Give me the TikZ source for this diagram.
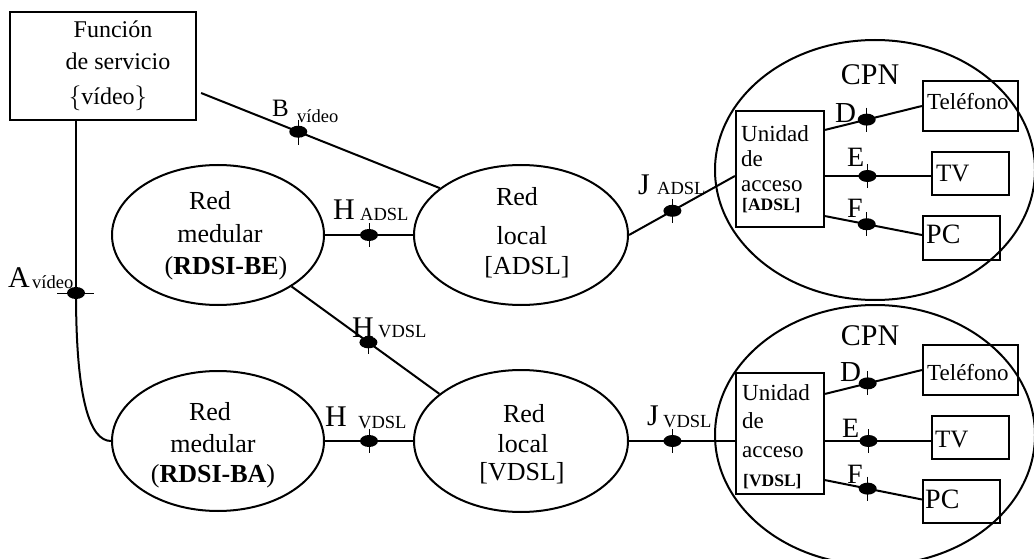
\documentclass[tikz,border=0pt]{standalone}
\usepackage{fontspec}
\setmainfont{Liberation Serif}
\usetikzlibrary{shapes.geometric}
\tikzset{
  ln/.style={line width=2pt},
  lnthick/.style={line width=2.6pt},
  tickln/.style={line width=0.8pt},
  net/.style={draw, ellipse, line width=2pt, minimum width=212pt, minimum height=140pt, inner sep=0pt},
  cpn/.style={draw, ellipse, line width=2pt, minimum width=320pt, minimum height=260pt, inner sep=0pt},
  box/.style={draw, rectangle, line width=2.2pt, inner sep=0pt},
  pt/.style={fill=black, ellipse, minimum width=18pt, minimum height=12pt, inner sep=0pt},
  txt/.style={inner sep=0pt, anchor=base, font=\fontsize{26}{30}\selectfont},
  svctxt/.style={inner sep=0pt, anchor=base, font=\fontsize{24}{28}\selectfont},
  lab/.style={inner sep=0pt, anchor=base west, font=\fontsize{30}{32}\selectfont},
  lbl/.style={inner sep=0pt, anchor=base west, font=\fontsize{25}{28}\selectfont},
  sub/.style={inner sep=0pt, anchor=base west, font=\fontsize{18.5}{20}\selectfont},
  dev/.style={inner sep=0pt, anchor=base west, font=\fontsize{23}{26}\selectfont},
  unit/.style={inner sep=0pt, anchor=base west, font=\fontsize{23}{26}\selectfont},
  unitb/.style={inner sep=0pt, anchor=base west, font=\fontsize{17.5}{20}\selectfont\bfseries},
}
\begin{document}
\begin{tikzpicture}[x=1pt,y=-1pt]
\useasboundingbox (0,0) rectangle (1034,559);
\fill[white] (0,0) rectangle (1034,559);

% service function box
\node[box, minimum width=186pt, minimum height=108pt] (svc) at (103,66) {};
\node[svctxt] (svc1) at (113,38) {Función};
\node[svctxt] (svc2) at (118,70) {de servicio};
\node[svctxt] (svc3) at (108,105) {$\biggl\{$vídeo$\biggr\}$};

% core and access networks
\node[net] (mBE) at (218,235) {};
\node[net] (mBA) at (218,441) {};
\node[net, minimum width=214pt, minimum height=140pt] (lA) at (521,235) {};
\node[net, minimum width=214pt, minimum height=142pt] (lV) at (521,441) {};

\node[txt] (mBE1) at (210,210) {Red};
\node[txt] (mBE2) at (220,242) {medular};
\node[txt] (mBE3) at (226,274) {(\textbf{RDSI-BE})};
\node[txt] (mBA1) at (210,420) {Red};
\node[txt] (mBA2) at (213,452) {medular};
\node[txt] (mBA3) at (213,482) {(\textbf{RDSI-BA})};
\node[txt] (lA1) at (517,205) {Red};
\node[txt] (lA2) at (522,244) {local};
\node[txt] (lA3) at (527,274) {[ADSL]};
\node[txt] (lV1) at (524,422) {Red};
\node[txt] (lV2) at (523,452) {local};
\node[txt] (lV3) at (522,480) {[VDSL]};

% customer premises networks
\node[cpn] (cA) at (875,170) {};
\node[cpn] (cV) at (875,435) {};
\node[inner sep=0pt, anchor=base, font=\fontsize{30}{32}\selectfont] (cAt) at (870,85) {CPN};
\node[inner sep=0pt, anchor=base, font=\fontsize{30}{32}\selectfont] (cVt) at (870,345) {CPN};

% access units
\node[box, minimum width=88pt, minimum height=116pt] (uA) at (780,169) {};
\node[unit] (uA1) at (741,142) {Unidad};
\node[unit] (uA2) at (741,167) {de};
\node[unit] (uA3) at (741,192) {acceso};
\node[unitb] (uA4) at (742,211) {[ADSL]};
\node[box, minimum width=88pt, minimum height=121pt] (uV) at (780,433.5) {};
\node[unit] (uV1) at (742,400) {Unidad};
\node[unit] (uV2) at (742,428) {de};
\node[unit] (uV3) at (742,457) {acceso};
\node[unitb] (uV4) at (743,486) {[VDSL]};

% terminals
\node[box, minimum width=95pt, minimum height=50pt] (telA) at (970.5,106) {};
\node[box, minimum width=77pt, minimum height=43pt] (tvA) at (970.5,173.5) {};
\node[box, minimum width=77pt, minimum height=44pt] (pcA) at (961.5,238) {};
\node[box, minimum width=95pt, minimum height=50pt] (telV) at (970.5,370) {};
\node[box, minimum width=77pt, minimum height=43pt] (tvV) at (970.5,437.5) {};
\node[box, minimum width=77pt, minimum height=43pt] (pcV) at (961.5,501.5) {};
\node[dev] (telAt) at (927,110) {Teléfono};
\node[dev, font=\fontsize{25}{28}\selectfont] (tvAt) at (936,182) {TV};
\node[dev, font=\fontsize{28}{30}\selectfont] (pcAt) at (926,243) {PC};
\node[dev] (telVt) at (927,380) {Teléfono};
\node[dev, font=\fontsize{25}{28}\selectfont] (tvVt) at (935,447) {TV};
\node[dev, font=\fontsize{28}{30}\selectfont] (pcVt) at (925,508) {PC};

% reference point B
\draw[ln] ([xshift=4pt,yshift=-27pt]svc.east) -- node[pt, pos=0.407] (dB) {} (lA.150);
\draw[tickln] ([yshift=12pt]dB.center) -- ([yshift=-13pt]dB.center);
\node[lbl] (Bl) at (272,117) {B};
\node[sub] (Bs) at (297,123) {vídeo};

% reference point A
\node[pt] (dA) at (76,293) {};
\draw[lnthick] ([xshift=-27pt]svc.south) -- (dA.center);
\draw[ln] (dA.center) .. controls (76,400) and (90,441) .. (mBA.west);
\draw[tickln] ([xshift=-19pt]dA.center) -- ([xshift=18pt]dA.center);
\node[lab] (Al) at (8,287) {A};
\node[sub] (As) at (32,288) {vídeo};

% reference points H
\draw[ln] (mBE.east) -- node[pt, pos=0.5] (dH1) {} (lA.west);
\draw[tickln] ([yshift=12pt]dH1.center) -- ([yshift=-12pt]dH1.center);
\node[lab] (H1l) at (333,219) {H};
\node[sub] (H1s) at (360,220) {ADSL};

\draw[ln] (mBE.-35) -- node[pt, pos=0.52] (dH2) {} (lV.150);
\draw[tickln] ([yshift=12pt]dH2.center) -- ([yshift=-12pt]dH2.center);
\node[lab] (H2l) at (352,337) {H};
\node[sub] (H2s) at (378,337) {VDSL};

\draw[ln] (mBA.east) -- node[pt, pos=0.5] (dH3) {} (lV.west);
\draw[tickln] ([yshift=12pt]dH3.center) -- ([yshift=-12pt]dH3.center);
\node[lab] (H3l) at (325,426) {H};
\node[sub] (H3s) at (358,428) {VDSL};

% reference points J
\draw[ln] (lA.east) -- node[pt, pos=0.41] (dJ1) {} ([yshift=-7pt]uA.west);
\draw[tickln] ([yshift=12pt]dJ1.center) -- ([yshift=-12pt]dJ1.center);
\node[lab] (J1l) at (638,194) {J};
\node[sub] (J1s) at (657,195) {ADSL};

\draw[ln] (lV.east) -- node[pt, pos=0.41] (dJ2) {} (lV.east -| uV.west);
\draw[tickln] ([yshift=12pt]dJ2.center) -- ([yshift=-12pt]dJ2.center);
\node[lab] (J2l) at (647,425) {J};
\node[sub] (J2s) at (663,427) {VDSL};

% reference points D, E, F (ADSL side)
\draw[ln] ([yshift=-20pt]uA.north east) -- node[pt, pos=0.43] (dDA) {} (telA.west);
\draw[ln] ([yshift=-7pt]uA.east) -- node[pt, pos=0.40] (dEA) {} ([yshift=-7pt]uA.east -| tvA.west);
\draw[ln] ([yshift=12pt]uA.south east) -- node[pt, pos=0.43] (dFA) {} ([yshift=3pt]pcA.west);
\foreach \d in {dDA,dEA,dFA}
  \draw[tickln] ([yshift=12pt]\d.center) -- ([yshift=-12pt]\d.center);
\node[lab, font=\fontsize{29}{30}\selectfont] (DAl) at (835,123) {D};
\node[lab, font=\fontsize{28}{30}\selectfont] (EAl) at (847,167) {E};
\node[lab, font=\fontsize{28}{30}\selectfont] (FAl) at (847,218) {F};

% reference points D, E, F (VDSL side)
\draw[ln] ([yshift=-22pt]uV.north east) -- node[pt, pos=0.44] (dDV) {} (telV.west);
\draw[ln] ([yshift=-7.5pt]uV.east) -- node[pt, pos=0.41] (dEV) {} ([yshift=-7.5pt]uV.east -| tvV.west);
\draw[ln] ([yshift=15pt]uV.south east) -- node[pt, pos=0.44] (dFV) {} ([yshift=2pt]pcV.west);
\foreach \d in {dDV,dEV,dFV}
  \draw[tickln] ([yshift=12pt]\d.center) -- ([yshift=-12pt]\d.center);
\node[lab, font=\fontsize{29}{30}\selectfont] (DVl) at (840,381) {D};
\node[lab, font=\fontsize{28}{30}\selectfont] (EVl) at (842,437) {E};
\node[lab, font=\fontsize{28}{30}\selectfont] (FVl) at (847,483) {F};
\end{tikzpicture}
\end{document}
